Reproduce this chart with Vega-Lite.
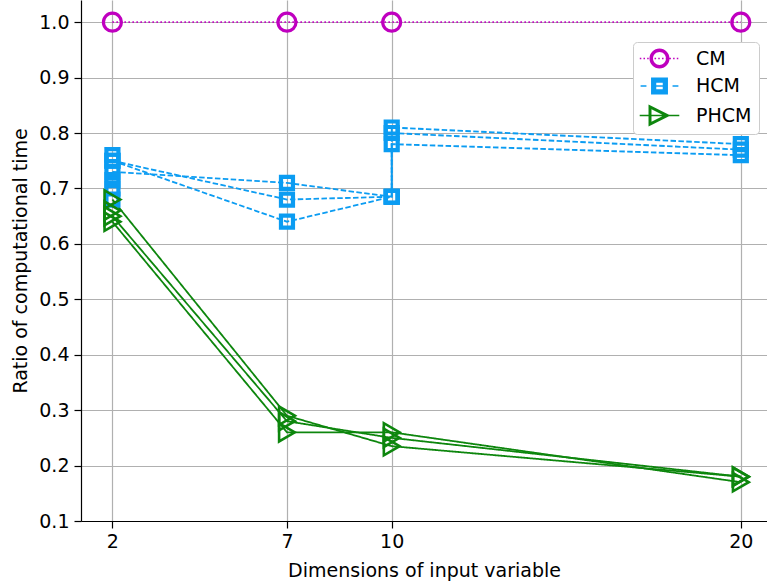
{
  "$schema": "https://vega.github.io/schema/vega-lite/v6.json",
  "width": 686,
  "height": 521,
  "autosize": {"type": "none"},
  "padding": {"left": 81, "top": 0, "right": 0, "bottom": 64},
  "config": {"view": {"stroke": null}, "font": "DejaVu Sans"},
  "data": {
    "values": [
      {"m": "CM", "r": "c1", "o": 1, "x": 2, "y": 1.0},
      {"m": "CM", "r": "c1", "o": 2, "x": 7, "y": 1.0},
      {"m": "CM", "r": "c1", "o": 3, "x": 10, "y": 1.0},
      {"m": "CM", "r": "c1", "o": 4, "x": 20, "y": 1.0},
      {"m": "HCM", "r": "h1", "o": 1, "x": 2, "y": 0.75},
      {"m": "HCM", "r": "h1", "o": 2, "x": 7, "y": 0.64},
      {"m": "HCM", "r": "h1", "o": 3, "x": 10, "y": 0.685},
      {"m": "HCM", "r": "h1", "o": 4, "x": 10, "y": 0.80},
      {"m": "HCM", "r": "h1", "o": 5, "x": 20, "y": 0.77},
      {"m": "HCM", "r": "h2", "o": 1, "x": 2, "y": 0.75},
      {"m": "HCM", "r": "h2", "o": 2, "x": 7, "y": 0.68},
      {"m": "HCM", "r": "h2", "o": 3, "x": 10, "y": 0.685},
      {"m": "HCM", "r": "h2", "o": 4, "x": 10, "y": 0.81},
      {"m": "HCM", "r": "h2", "o": 5, "x": 20, "y": 0.78},
      {"m": "HCM", "r": "h3", "o": 1, "x": 2, "y": 0.73},
      {"m": "HCM", "r": "h3", "o": 2, "x": 7, "y": 0.71},
      {"m": "HCM", "r": "h3", "o": 3, "x": 10, "y": 0.685},
      {"m": "HCM", "r": "h3", "o": 4, "x": 10, "y": 0.78},
      {"m": "HCM", "r": "h3", "o": 5, "x": 20, "y": 0.76},
      {"m": "HCM", "r": "h4", "o": 1, "x": 2, "y": 0.76},
      {"m": "HCM", "r": "h5", "o": 1, "x": 2, "y": 0.715},
      {"m": "HCM", "r": "h6", "o": 1, "x": 2, "y": 0.70},
      {"m": "HCM", "r": "h7", "o": 1, "x": 2, "y": 0.68},
      {"m": "PHCM", "r": "p1", "o": 1, "x": 2, "y": 0.68},
      {"m": "PHCM", "r": "p1", "o": 2, "x": 7, "y": 0.29},
      {"m": "PHCM", "r": "p1", "o": 3, "x": 10, "y": 0.235},
      {"m": "PHCM", "r": "p1", "o": 4, "x": 20, "y": 0.18},
      {"m": "PHCM", "r": "p2", "o": 1, "x": 2, "y": 0.65},
      {"m": "PHCM", "r": "p2", "o": 2, "x": 7, "y": 0.28},
      {"m": "PHCM", "r": "p2", "o": 3, "x": 10, "y": 0.25},
      {"m": "PHCM", "r": "p2", "o": 4, "x": 20, "y": 0.18},
      {"m": "PHCM", "r": "p3", "o": 1, "x": 2, "y": 0.64},
      {"m": "PHCM", "r": "p3", "o": 2, "x": 7, "y": 0.26},
      {"m": "PHCM", "r": "p3", "o": 3, "x": 10, "y": 0.26},
      {"m": "PHCM", "r": "p3", "o": 4, "x": 20, "y": 0.17},
      {"m": "PHCM", "r": "p4", "o": 1, "x": 2, "y": 0.66}
    ]
  },
  "encoding": {
    "x": {
      "field": "x", "type": "quantitative",
      "scale": {"domain": [1.1, 20.75], "nice": false, "zero": false},
      "axis": {
        "values": [2, 7, 10, 20], "title": "Dimensions of input variable",
        "grid": true, "gridColor": "#b0b0b0", "gridWidth": 1.2,
        "domainColor": "black", "domainWidth": 1.2,
        "tickColor": "black", "tickSize": 7, "tickWidth": 1.2,
        "labelFont": "DejaVu Sans", "labelFontSize": 19, "labelColor": "black", "labelPadding": 4, "labelFlush": false,
        "titleFont": "DejaVu Sans", "titleFontSize": 19, "titleFontWeight": "normal", "titleColor": "black", "titlePadding": 10
      }
    },
    "y": {
      "field": "y", "type": "quantitative",
      "scale": {"domain": [0.1, 1.04], "nice": false, "zero": false},
      "axis": {
        "values": [0.1, 0.2, 0.3, 0.4, 0.5, 0.6, 0.7, 0.8, 0.9, 1.0], "format": ".1f",
        "title": "Ratio of computational time",
        "grid": true, "gridColor": "#b0b0b0", "gridWidth": 1.2,
        "domainColor": "black", "domainWidth": 1.2,
        "tickColor": "black", "tickSize": 7, "tickWidth": 1.2,
        "labelFont": "DejaVu Sans", "labelFontSize": 19, "labelColor": "black", "labelPadding": 5, "labelFlush": false,
        "titleFont": "DejaVu Sans", "titleFontSize": 19, "titleFontWeight": "normal", "titleColor": "black", "titlePadding": 8
      }
    }
  },
  "layer": [
    {
      "mark": {"type": "line", "strokeWidth": 1.8},
      "encoding": {
        "color": {"field": "m", "type": "nominal", "scale": {"domain": ["CM", "HCM", "PHCM"], "range": ["#bf00bf", "#0b9cf2", "#0d860d"]}, "legend": null},
        "strokeDash": {"field": "m", "type": "nominal", "scale": {"domain": ["CM", "HCM", "PHCM"], "range": [[1.5, 2.5], [5.5, 2.4], [1, 0]]}, "legend": null},
        "detail": {"field": "r"},
        "order": {"field": "o", "type": "quantitative"}
      }
    },
    {
      "transform": [{"filter": "datum.m == 'CM'"}],
      "mark": {"type": "point", "shape": "circle", "filled": false, "opacity": 1, "size": 324, "strokeWidth": 3.2, "color": "#bf00bf"}
    },
    {
      "transform": [{"filter": "datum.m == 'HCM'"}],
      "mark": {"type": "point", "shape": "square", "filled": false, "opacity": 1, "size": 144, "strokeWidth": 4.2, "color": "#0b9cf2"}
    },
    {
      "transform": [{"filter": "datum.m == 'PHCM'"}],
      "mark": {"type": "point", "shape": "triangle-right", "filled": false, "opacity": 1, "size": 330, "strokeWidth": 2.6, "color": "#0d860d"}
    },
    {
      "transform": [{"filter": "datum.y > 5"}],
      "mark": {"type": "point", "filled": true, "opacity": 1, "strokeWidth": 0},
      "encoding": {
        "color": {
          "field": "m", "type": "nominal",
          "scale": {"domain": ["CM", "HCM", "PHCM"], "range": ["#bf00bf", "#0b9cf2", "#0d860d"]},
          "legend": {
            "title": null, "orient": "none", "legendX": 552, "legendY": 42, "padding": 7,
            "strokeColor": "#cccccc", "fillColor": "white", "cornerRadius": 4,
            "symbolSize": 324, "symbolOffset": 10, "labelOffset": 27,
            "labelFont": "DejaVu Sans", "labelFontSize": 19, "labelColor": "black",
            "rowPadding": 7.5, "symbolStrokeWidth": 0,
            "encode": {"symbols": {"update": {"stroke": {"value": "transparent"}, "opacity": {"value": 1}}}}
          }
        },
        "shape": {
          "field": "m", "type": "nominal",
          "scale": {"domain": ["CM", "HCM", "PHCM"], "range": [
            "M-2.19,-0.08h0.17v0.17h-0.17zM-1.78,-0.08h0.17v0.17h-0.17zM-1.37,-0.08h0.17v0.17h-0.17zM-0.96,-0.08h0.17v0.17h-0.17zM-0.55,-0.08h0.17v0.17h-0.17zM-0.14,-0.08h0.17v0.17h-0.17zM0.28,-0.08h0.17v0.17h-0.17zM0.69,-0.08h0.17v0.17h-0.17zM1.1,-0.08h0.17v0.17h-0.17zM1.51,-0.08h0.17v0.17h-0.17zM1.92,-0.08h0.17v0.17h-0.17zM1.11,0A1.11,1.11,0,1,1,-1.11,0A1.11,1.11,0,1,1,1.11,0ZM0.72,0A0.72,0.72,0,1,0,-0.72,0A0.72,0.72,0,1,0,0.72,0Z",
            "M-0.94,-0.94H0.94V0.94H-0.94ZM-0.36,-0.36V0.36H0.36V-0.36ZM-0.36,-0.08H0.36V0.08H-0.36ZM-2.1,-0.08H-1.45V0.08H-2.1ZM1.45,-0.08H2.1V0.08H1.45Z",
            "M-1.22,-1.22L1.22,0L-1.22,1.22ZM-0.89,-0.686L-0.89,0.686L0.482,0ZM-2.2,-0.08H2.2V0.08H-2.2Z"
          ]},
          "legend": {
            "title": null, "orient": "none", "legendX": 552, "legendY": 42, "padding": 7,
            "strokeColor": "#cccccc", "fillColor": "white", "cornerRadius": 4,
            "symbolSize": 324, "symbolOffset": 10, "labelOffset": 27,
            "labelFont": "DejaVu Sans", "labelFontSize": 19, "labelColor": "black",
            "rowPadding": 7.5, "symbolStrokeWidth": 0,
            "encode": {"symbols": {"update": {"stroke": {"value": "transparent"}, "opacity": {"value": 1}}}}
          }
        }
      }
    }
  ],
  "resolve": {"scale": {"shape": "independent", "color": "independent"}}
}
